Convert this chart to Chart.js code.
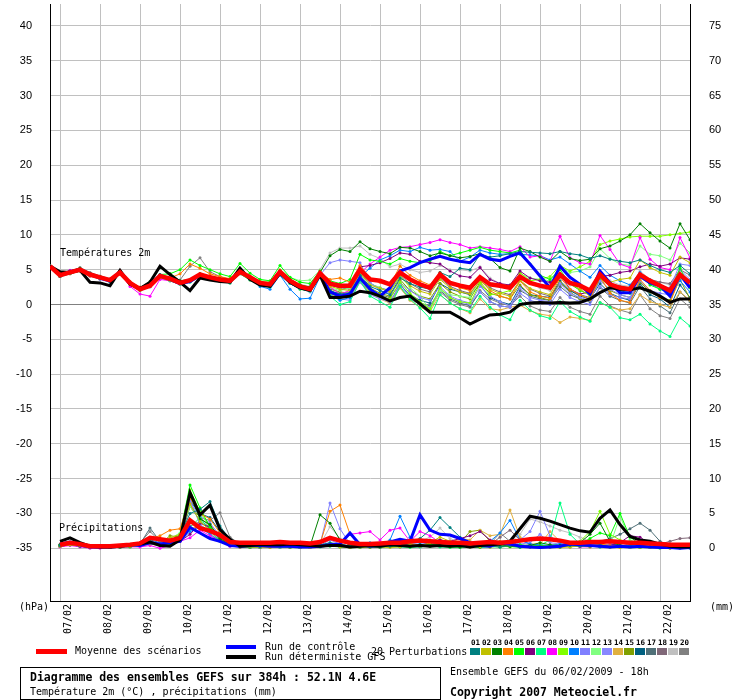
<!DOCTYPE html>
<html>
<head>
<meta charset="utf-8">
<script src="https://cdn.jsdelivr.net/npm/chart.js@4.4.0/dist/chart.umd.min.js"></script>
<style>
  body { margin: 0; background: #fff; }
  #wrap { position: relative; width: 740px; height: 700px; overflow: hidden; }
  .t { position: absolute; white-space: nowrap; font: 10px 'DejaVu Sans Mono', monospace; line-height: 12px; color: #000; }
  .b { font-weight: bold; font-size: 11.5px; line-height: 14px; }
  .sw { position: absolute; }
  .num { position: absolute; width: 11px; text-align: center; font: bold 7.5px 'DejaVu Sans Mono', monospace; line-height: 9px; }
</style>
</head>
<body>
<div id="wrap">
  <canvas id="gefsChart" width="740" height="700"></canvas>
  <div class="t" style="left:60px;top:247px">Températures 2m</div>
  <div class="t" style="left:59px;top:522px">Précipitations</div>
  <div class="t" style="left:19px;top:601px">(hPa)</div>
  <div class="t" style="left:710px;top:601px">(mm)</div>

  <div class="sw" style="left:36px;top:649px;width:31px;height:5px;background:#ff0000"></div>
  <div class="t" style="left:75px;top:645px">Moyenne des scénarios</div>
  <div class="sw" style="left:226px;top:645px;width:30px;height:4px;background:#0000ff"></div>
  <div class="t" style="left:265px;top:641px">Run de contrôle</div>
  <div class="sw" style="left:226px;top:655px;width:30px;height:4px;background:#000"></div>
  <div class="t" style="left:265px;top:651px">Run déterministe GFS</div>
  <div class="t" style="left:371px;top:646px">20 Perturbations</div>
  <div id="pertLegend"></div>

  <div style="position:absolute;left:20px;top:667px;width:419px;height:31px;border:1px solid #000"></div>
  <div class="t b" style="left:30px;top:670px">Diagramme des ensembles GEFS sur 384h : 52.1N 4.6E</div>
  <div class="t" style="left:30px;top:686px">Température 2m (°C) , précipitations (mm)</div>
  <div class="t" style="left:450px;top:666px">Ensemble GEFS du 06/02/2009 - 18h</div>
  <div class="t b" style="left:450px;top:685px">Copyright 2007 Meteociel.fr</div>
</div>
<script>
// x = run step (6h), 0 = 06/02 18h ... 64 = +384h
const steps = Array.from({ length: 65 }, (_, i) => i);
const dayTicks = [1, 5, 9, 13, 17, 21, 25, 29, 33, 37, 41, 45, 49, 53, 57, 61];
const dateLabels = ['07/02', '08/02', '09/02', '10/02', '11/02', '12/02', '13/02', '14/02',
  '15/02', '16/02', '17/02', '18/02', '19/02', '20/02', '21/02', '22/02'];
const tempTicks = [-35, -30, -25, -20, -15, -10, -5, 0, 5, 10, 15, 20, 25, 30, 35, 40];
const precipTicks = [0, 5, 10, 15, 20, 25, 30, 35, 40, 45, 50, 55, 60, 65, 70, 75];

const pertColors = ['#008080', '#c0c000', '#008000', '#ff8000', '#00ff00', '#800080', '#00ff80',
  '#ff00ff', '#80ff00', '#0080ff', '#8080ff', '#80ff80', '#8888ff', '#e0b040', '#80a000',
  '#006080', '#507078', '#806878', '#c0c0c0', '#808080'];

// temperature 2m (°C)
const meanTemp = [5.5, 4.2, 4.6, 5.0, 4.3, 3.9, 3.5, 4.6, 3.1, 2.2, 2.7, 4.1, 3.7, 3.1, 3.5, 4.3, 3.9, 3.6, 3.4, 4.7, 3.9, 3.1, 2.9, 4.7, 3.4, 2.6, 2.2, 4.5,
  3.0, 2.7, 2.7, 5.0, 3.6, 3.4, 2.9, 4.6, 3.6, 2.9, 2.4, 4.3, 3.1, 2.7, 2.4, 3.9, 2.9, 2.7, 2.4, 4.0, 3.1, 2.7, 2.4, 4.3, 3.1, 2.7, 2.0, 4.3, 2.9, 2.4, 2.2, 4.3, 3.4, 2.7, 2.0, 4.3, 3.1];
const ctrlTemp = [5.5, 4.3, 4.7, 5.0, 4.4, 3.8, 3.4, 4.7, 3.0, 2.1, 2.8, 4.2, 3.6, 3.0, 3.3, 4.2, 3.8, 3.5, 3.3, 4.8, 3.8, 3.0, 2.8, 4.6, 3.2, 2.4, 2.1, 4.4,
  1.8, 1.2, 1.5, 3.8, 2.2, 1.2, 2.4, 4.8, 5.3, 6.0, 6.5, 6.9, 6.5, 6.2, 6.0, 7.2, 6.5, 6.3, 6.9, 7.4, 5.8, 4.1, 2.4, 5.5, 3.9, 2.9, 1.5, 4.8, 3.1, 1.7, 1.7, 4.1, 3.1, 2.7, 1.2, 4.3, 2.4];
const detTemp = [5.5, 4.7, 4.6, 4.9, 3.2, 3.1, 2.7, 4.9, 2.9, 2.3, 3.2, 5.5, 4.3, 3.2, 2.0, 3.8, 3.5, 3.3, 3.2, 5.2, 3.6, 2.8, 2.6, 4.5, 3.2, 2.4, 2.0, 4.2,
  1.0, 1.0, 1.2, 1.9, 1.7, 1.2, 0.5, 1.0, 1.2, 0.1, -1.1, -1.1, -1.1, -1.9, -2.8, -2.1, -1.5, -1.4, -1.1, 0.0, 0.2, 0.3, 0.2, 0.3, 0.2, 0.3, 0.8, 1.7, 2.4, 2.2, 2.1, 2.4, 1.9, 1.2, 0.3, 0.8, 0.8];

const tempP01 = [5.5, 4.0, 4.5, 5.0, 4.2, 3.8, 3.3, 4.5, 3.0, 2.4, 2.8, 4.3, 3.6, 3.0, 3.4, 4.0, 3.7, 3.4, 3.3, 4.6, 3.7, 2.9, 2.7, 4.5, 3.2, 2.4, 2.0, 4.2,
  2.0, 1.5, 1.7, 4.2, 2.6, 2.0, 1.4, 3.8, 3.0, 2.5, 2.2, 4.6, 4.0, 5.2, 5.0, 7.2, 6.8, 7.0, 7.3, 7.6, 7.5, 7.4, 7.3, 7.6, 7.3, 7.1, 6.6, 7.0, 6.5, 6.2, 6.0, 6.4, 5.6, 5.0, 4.6, 5.6, 4.4];
const tempP02 = [5.5, 4.1, 4.4, 4.8, 4.1, 3.7, 3.4, 4.4, 2.9, 2.0, 2.6, 3.9, 3.5, 3.0, 3.3, 4.1, 3.8, 3.5, 3.3, 4.5, 3.8, 3.0, 2.8, 4.6, 3.3, 2.5, 2.1, 4.3,
  2.6, 2.2, 2.0, 4.5, 2.8, 2.3, 1.8, 4.0, 2.7, 1.9, 1.5, 3.6, 2.4, 1.8, 1.5, 3.4, 2.2, 1.6, 1.2, 3.5, 2.3, 1.8, 1.4, 4.1, 3.0, 2.2, 1.2, 4.6, 3.2, 3.6, 3.8, 6.4, 5.3, 4.6, 4.2, 6.8, 6.0];
const tempP03 = [5.5, 4.4, 4.8, 5.2, 4.5, 4.0, 3.6, 4.8, 3.2, 2.4, 3.3, 5.3, 4.4, 3.4, 3.6, 4.4, 4.0, 3.7, 3.5, 5.0, 4.0, 3.2, 3.0, 4.8, 3.6, 2.8, 2.5, 4.6,
  7.0, 7.9, 7.6, 9.0, 8.0, 7.6, 7.3, 8.2, 8.1, 7.6, 7.0, 7.4, 7.0, 6.7, 6.9, 7.3, 6.6, 5.3, 4.8, 8.1, 7.6, 6.8, 6.2, 7.6, 6.6, 6.3, 6.5, 8.0, 8.4, 9.1, 10.0, 11.6, 10.3, 9.1, 8.1, 11.6, 9.3];
const tempP04 = [5.5, 4.0, 4.5, 5.0, 4.4, 4.0, 3.6, 4.7, 3.3, 2.5, 2.9, 4.0, 3.8, 4.4, 5.8, 5.2, 4.4, 4.0, 3.7, 4.8, 4.0, 3.3, 3.1, 4.9, 3.5, 2.7, 2.4, 4.5,
  3.6, 3.8, 3.2, 5.6, 3.8, 3.2, 2.8, 5.5, 4.2, 3.4, 2.8, 4.6, 3.2, 2.4, 2.0, 3.6, 2.0, 1.2, 0.8, 3.4, 1.8, 1.2, 0.9, 3.9, 2.2, 1.4, 0.7, 4.0, 1.6, 0.6, 0.3, 3.6, 2.0, 1.0, 0.2, 3.9, 2.8];
const tempP05 = [5.5, 4.3, 4.7, 5.1, 4.4, 3.9, 3.5, 4.6, 3.0, 2.1, 2.7, 4.3, 4.4, 5.0, 6.4, 5.6, 5.0, 4.4, 4.0, 5.9, 4.5, 3.6, 3.4, 5.6, 3.9, 3.2, 3.0, 4.8,
  3.4, 3.0, 3.6, 7.2, 6.4, 6.2, 5.8, 6.6, 6.2, 6.0, 6.3, 7.6, 7.0, 7.4, 7.8, 8.2, 7.8, 7.6, 7.4, 7.8, 5.8, 4.2, 3.6, 5.0, 3.0, 2.0, 1.4, 3.8, 2.6, 2.0, 1.6, 4.2, 2.8, 2.2, 1.8, 5.2, 2.4];
const tempP06 = [5.5, 4.2, 4.6, 4.9, 4.2, 3.8, 3.4, 4.5, 3.1, 2.3, 2.8, 4.0, 3.6, 3.1, 3.4, 4.2, 3.8, 3.5, 3.3, 4.6, 3.8, 3.0, 2.8, 4.6, 3.3, 2.5, 2.1, 4.4,
  2.8, 2.4, 3.0, 5.4, 5.6, 6.0, 6.6, 7.4, 7.2, 6.2, 6.0, 5.8, 4.8, 4.1, 3.9, 5.3, 3.6, 3.0, 2.8, 4.8, 3.8, 3.4, 3.2, 4.4, 2.2, 1.5, 1.8, 4.0, 4.2, 4.6, 4.8, 5.4, 5.8, 5.5, 5.8, 6.7, 6.5];
const tempP07 = [5.5, 4.1, 4.5, 4.9, 4.2, 3.7, 3.3, 4.4, 2.9, 2.0, 2.6, 3.9, 3.4, 2.9, 3.2, 4.0, 3.6, 3.3, 3.1, 4.4, 3.5, 2.8, 2.5, 4.3, 3.0, 2.2, 1.9, 4.1,
  1.2, 0.0, 0.4, 3.4, 1.2, 0.4, -0.4, 2.6, 0.8, -0.5, -2.0, 1.4, 0.2, -0.6, -1.0, 1.2, -0.4, -1.5, -2.2, 0.6, -0.8, -1.6, -2.0, 0.4, -1.0, -1.8, -2.4, 0.3, -0.4, -1.9, -2.2, -1.4, -2.8, -3.8, -4.6, -1.9, -3.1];
const tempP08 = [5.5, 4.3, 4.9, 5.0, 4.1, 3.7, 3.4, 4.5, 2.6, 1.5, 1.2, 3.6, 3.4, 3.0, 3.4, 4.2, 3.8, 3.6, 3.4, 4.6, 3.8, 3.1, 2.9, 4.6, 3.4, 2.7, 2.3, 4.5,
  2.5, 1.5, 2.0, 4.5, 5.8, 6.8, 7.8, 8.2, 8.3, 8.6, 8.9, 9.3, 8.9, 8.6, 8.1, 8.3, 8.1, 7.9, 7.6, 8.3, 6.8, 7.0, 6.2, 9.8, 6.7, 6.0, 5.8, 9.9, 7.9, 5.8, 5.3, 9.6, 6.5, 5.3, 5.0, 9.6, 6.7];
const tempP09 = [5.5, 4.2, 4.6, 5.0, 4.3, 3.9, 3.5, 4.6, 3.1, 2.2, 2.7, 4.0, 3.6, 3.1, 3.6, 4.4, 3.9, 3.6, 3.4, 4.8, 3.9, 3.2, 3.0, 4.6, 3.4, 2.6, 2.3, 4.4,
  1.6, 1.0, 1.4, 3.6, 1.8, 1.2, 0.8, 3.2, 1.6, 0.4, -0.6, 2.4, 1.0, 0.4, 0.2, 3.0, 1.4, 1.6, 2.0, 4.6, 3.4, 3.6, 4.0, 5.6, 4.8, 5.4, 6.2, 8.6, 9.1, 9.4, 9.7, 9.8, 9.8, 9.8, 10.0, 10.2, 10.4];
const tempP10 = [5.5, 4.2, 4.5, 4.9, 4.2, 3.8, 3.4, 4.5, 3.0, 2.1, 2.6, 4.0, 3.5, 3.0, 3.3, 4.1, 3.7, 3.4, 3.2, 4.5, 3.6, 2.6, 2.2, 4.2, 2.2, 0.8, 0.9, 4.0,
  1.4, 0.6, 1.0, 4.0, 5.2, 6.4, 7.0, 7.8, 7.6, 8.2, 7.8, 7.9, 7.6, 6.2, 6.8, 7.8, 7.4, 7.2, 7.3, 7.2, 7.1, 7.0, 6.4, 6.8, 5.8, 4.8, 3.9, 5.6, 4.2, 3.4, 2.8, 4.6, 3.0, 2.2, 1.6, 3.4, 1.8];
const tempP11 = [5.5, 4.0, 4.4, 4.8, 4.1, 3.6, 3.2, 4.4, 3.0, 2.1, 2.5, 3.8, 3.4, 2.9, 3.3, 4.0, 3.6, 3.3, 3.1, 4.4, 3.6, 2.9, 2.7, 4.4, 3.2, 2.4, 2.0, 4.2,
  6.0, 6.4, 6.2, 6.0, 3.2, 2.0, 1.6, 3.2, 2.0, 1.0, 0.6, 2.6, 1.2, 0.6, 0.2, 1.8, 0.4, -0.2, -0.4, 1.6, 0.6, 0.2, 0.0, 2.2, 1.0, 0.4, 0.0, 2.6, 1.4, 1.0, 0.8, 3.4, 2.0, 1.6, 1.4, 5.0, 3.6];
const tempP12 = [5.5, 4.3, 4.7, 5.1, 4.4, 4.0, 3.6, 4.7, 3.2, 2.3, 2.8, 4.2, 3.8, 3.2, 3.6, 4.4, 4.0, 3.7, 3.5, 4.9, 4.0, 3.4, 3.3, 5.0, 3.9, 3.4, 3.5, 4.9,
  2.4, 2.0, 2.4, 4.4, 3.0, 2.4, 1.8, 4.2, 2.4, 1.2, -0.8, 2.0, 1.4, 1.2, 1.0, 3.6, 2.8, 2.6, 2.8, 4.4, 3.8, 3.6, 3.4, 5.4, 4.6, 4.8, 5.4, 8.0, 6.6, 5.8, 5.6, 8.4, 7.2, 7.0, 6.4, 8.8, 7.4];
const tempP13 = [5.5, 4.1, 4.5, 4.9, 4.3, 3.9, 3.4, 4.5, 3.0, 2.2, 2.6, 4.0, 3.6, 3.0, 3.4, 4.1, 3.7, 3.4, 3.3, 4.6, 3.7, 3.0, 2.8, 4.5, 3.1, 2.3, 1.8, 4.3,
  1.8, 0.8, 0.6, 3.2, 1.4, 0.8, 0.4, 2.8, 1.2, 0.2, -0.4, 2.2, 1.0, 0.4, 0.0, 2.6, 1.2, 0.4, -0.2, 2.4, 1.0, 0.6, 0.4, 3.0, 1.6, 1.0, 0.6, 3.4, 2.2, 1.4, 1.0, 3.8, 3.0, 2.6, 2.4, 5.8, 5.6];
const tempP14 = [5.5, 4.0, 4.4, 4.8, 4.2, 3.8, 3.3, 4.4, 2.9, 2.1, 2.6, 3.9, 3.4, 2.9, 3.3, 4.0, 3.6, 3.3, 3.1, 4.4, 3.5, 2.8, 2.6, 4.3, 3.0, 2.2, 1.9, 4.1,
  1.4, 1.0, 1.2, 3.2, 1.6, 0.8, 0.2, 2.4, 0.6, -0.4, -1.0, 1.4, 0.2, -0.6, -1.2, 0.8, -0.6, -0.8, -0.4, -0.1, -0.9, -1.4, -1.6, -2.6, -1.8, -2.0, -2.3, 0.3, -0.4, -0.8, -0.6, 1.4, 0.4, 0.0, -0.4, 1.8, 0.6];
const tempP15 = [5.5, 4.2, 4.6, 5.0, 4.3, 3.9, 3.5, 4.6, 3.1, 2.3, 2.8, 4.1, 3.7, 3.1, 3.5, 4.2, 3.8, 3.5, 3.4, 4.7, 3.9, 3.1, 2.9, 4.6, 3.4, 2.6, 2.2, 4.4,
  2.2, 1.8, 1.6, 4.0, 2.4, 1.6, 1.2, 3.6, 2.0, 1.2, 0.8, 3.0, 1.8, 1.2, 0.8, 3.2, 1.6, 1.2, 0.8, 2.8, 1.4, 1.0, 0.6, 3.2, 1.8, 0.8, 0.6, 3.6, 2.0, 1.4, 1.0, 3.2, 1.8, 1.0, 0.6, 3.6, 0.8];
const tempP16 = [5.5, 4.1, 4.5, 4.9, 4.2, 3.8, 3.4, 4.6, 3.1, 2.2, 2.7, 4.1, 3.6, 3.1, 3.4, 4.2, 3.8, 3.5, 3.3, 4.6, 3.8, 3.0, 2.8, 4.6, 3.3, 2.5, 2.1, 4.4,
  1.6, 1.2, 1.4, 3.8, 2.0, 1.0, 0.4, 2.8, 1.4, 0.6, 0.2, 3.0, 2.2, 1.8, 1.4, 2.8, 1.0, 0.4, 0.0, 2.6, 1.4, 1.2, 1.0, 3.4, 2.0, 1.2, 0.8, 3.0, 1.6, 1.0, 0.6, 3.0, 1.4, 0.8, -0.4, 2.8, 1.0];
const tempP17 = [5.5, 4.2, 4.6, 5.0, 4.3, 3.9, 3.5, 4.6, 3.1, 2.2, 2.7, 4.1, 3.7, 3.1, 3.5, 4.3, 3.9, 3.6, 3.4, 4.7, 3.9, 3.1, 2.9, 4.7, 3.4, 2.6, 2.2, 4.5,
  1.8, 1.6, 1.2, 3.6, 2.2, 1.4, 1.0, 3.0, 1.0, 0.2, -0.2, 2.0, 0.8, 0.2, -0.2, 1.8, 0.4, -0.2, -0.4, 2.0, 1.2, 0.8, 0.6, 2.6, 1.4, 0.8, 0.4, 2.4, 1.2, 0.6, 0.2, 2.6, 0.8, -0.2, -1.2, 1.8, 0.4];
const tempP18 = [5.5, 4.2, 4.6, 5.0, 4.3, 3.9, 3.5, 4.6, 3.1, 2.3, 2.7, 4.1, 3.7, 3.1, 3.5, 4.3, 3.9, 3.6, 3.4, 4.7, 3.9, 3.1, 2.9, 4.7, 3.4, 2.6, 2.2, 4.5,
  2.8, 2.4, 2.2, 4.6, 3.0, 2.4, 2.0, 4.2, 3.0, 2.2, 1.8, 3.8, 2.6, 2.0, 1.6, 3.4, 2.4, 1.8, 1.4, 3.4, 2.2, 1.6, 1.2, 3.0, 2.0, 1.4, 1.0, 3.8, 3.0, 2.6, 2.4, 4.4, 3.6, 3.2, 3.0, 5.0, 4.2];
const tempP19 = [5.5, 4.3, 4.7, 5.1, 4.4, 4.0, 3.6, 4.8, 3.2, 2.4, 2.9, 4.2, 3.8, 3.2, 3.6, 4.4, 4.0, 3.7, 3.5, 4.8, 4.0, 3.2, 3.0, 4.9, 3.6, 2.9, 2.6, 5.0,
  7.4, 8.1, 8.1, 8.4, 7.2, 6.6, 5.4, 5.8, 5.0, 4.6, 4.8, 5.6, 5.0, 5.0, 4.8, 5.4, 3.8, 3.0, 2.6, 4.4, 3.0, 2.4, 2.0, 4.0, 2.8, 2.2, 1.8, 4.6, 3.4, 2.8, 2.6, 4.8, 3.6, 3.2, 2.8, 4.8, 2.8];
const tempP20 = [5.5, 4.4, 4.8, 5.3, 4.6, 4.1, 3.7, 4.7, 3.2, 2.3, 2.8, 4.2, 3.8, 3.5, 5.5, 6.7, 4.7, 4.0, 3.6, 4.8, 3.9, 3.2, 3.0, 4.7, 3.4, 2.7, 2.3, 4.4,
  2.0, 1.4, 1.0, 3.4, 1.6, 1.0, 0.2, 2.4, 0.8, 0.0, -0.6, 1.8, 0.6, 0.0, -0.4, 2.0, 0.8, 0.2, -0.2, 1.2, -0.2, -0.8, -1.0, 1.0, -0.4, -1.0, -1.4, 1.2, -0.2, -0.8, -1.2, 1.4, -0.6, -1.6, -2.0, 0.8, -0.4];

// precipitation (mm / 6h), no value at step 0
const meanRain = [null, 0.5, 0.8, 0.6, 0.3, 0.3, 0.3, 0.4, 0.5, 0.7, 1.5, 1.3, 1.1, 1.5, 4.0, 2.9, 2.5, 1.9, 0.9, 0.8, 0.8, 0.8, 0.8, 0.9, 0.8,
  0.8, 0.7, 0.9, 1.5, 1.1, 0.8, 0.6, 0.6, 0.7, 0.8, 0.8, 1.0, 1.1, 1.0, 0.9, 0.8, 0.8, 0.7, 0.8, 0.9, 0.8, 0.9, 1.1, 1.3,
  1.4, 1.3, 1.1, 0.8, 0.8, 0.9, 0.9, 1.0, 0.9, 0.8, 0.8, 0.7, 0.6, 0.5, 0.5, 0.5];
const ctrlRain = [null, 0.6, 0.9, 0.5, 0.2, 0.2, 0.2, 0.3, 0.5, 0.4, 0.8, 0.6, 0.8, 1.0, 3.0, 2.2, 1.4, 1.0, 0.4, 0.3, 0.4, 0.4, 0.3, 0.3, 0.3,
  0.2, 0.2, 0.3, 0.5, 0.6, 2.2, 0.5, 0.3, 0.4, 0.9, 1.3, 1.0, 4.8, 2.6, 2.0, 1.9, 1.4, 0.8, 0.4, 0.3, 0.8, 0.6, 0.3, 0.2,
  0.1, 0.2, 0.3, 0.6, 0.5, 0.4, 0.3, 0.2, 0.3, 0.2, 0.3, 0.2, 0.1, 0.1, 0.0, 0.1];
const detRain = [null, 1.0, 1.5, 0.8, 0.3, 0.2, 0.2, 0.3, 0.5, 0.6, 0.9, 0.4, 0.3, 1.2, 8.0, 4.8, 6.2, 2.7, 1.3, 0.3, 0.4, 0.5, 0.5, 0.5, 0.6,
  0.5, 0.4, 0.3, 0.4, 0.4, 0.2, 0.3, 0.4, 0.3, 0.5, 0.4, 0.3, 0.4, 0.3, 0.4, 0.3, 0.4, 0.2, 0.4, 0.5, 0.6, 1.0, 2.8, 4.6,
  4.3, 3.9, 3.4, 2.9, 2.5, 2.3, 4.3, 5.5, 3.4, 1.7, 1.2, 1.0, 0.6, 0.3, 0.2, 0.2];

const rainP01 = [null, 0.4, 0.8, 0.5, 0.2, 0.1, 0.1, 0.2, 0.4, 0.6, 1.0, 0.6, 0.8, 1.8, 5.0, 5.6, 6.7, 3.2, 1.2, 0.4, 0.3, 0.2, 0.4, 0.3, 0.2,
  0.2, 0.3, 0.5, 0.8, 0.6, 0.3, 0.2, 0.3, 0.2, 0.3, 0.5, 0.9, 1.4, 2.6, 4.4, 3.0, 1.6, 0.8, 0.5, 0.3, 0.2, 0.4, 0.3, 0.2,
  0.3, 0.2, 0.2, 0.4, 0.3, 0.3, 0.5, 0.2, 0.3, 0.4, 0.2, 0.2, 0.1, 0.1, 0.2, 0.2];
const rainP02 = [null, 0.3, 0.5, 0.4, 0.1, 0.1, 0.2, 0.2, 0.3, 0.4, 0.6, 0.4, 1.5, 2.0, 6.4, 3.8, 2.6, 1.8, 0.6, 0.2, 0.2, 0.1, 0.1, 0.2, 0.2,
  0.1, 0.1, 0.3, 0.5, 0.2, 0.1, 0.1, 0.2, 0.2, 0.1, 0.2, 0.5, 0.3, 0.8, 1.6, 1.0, 0.6, 0.4, 0.2, 0.5, 1.0, 0.4, 0.3, 0.2,
  0.2, 0.1, 0.1, 0.2, 0.3, 0.2, 0.4, 0.1, 0.1, 0.2, 0.1, 0.1, 0.1, 0.0, 0.1, 0.1];
const rainP03 = [null, 0.5, 0.7, 0.4, 0.2, 0.2, 0.1, 0.2, 0.3, 0.5, 0.9, 0.5, 0.6, 1.4, 7.8, 4.2, 3.4, 1.4, 0.5, 0.3, 0.2, 0.3, 0.2, 0.4, 0.3,
  0.2, 0.3, 4.8, 3.6, 1.2, 0.4, 0.3, 0.2, 0.2, 0.3, 0.4, 0.3, 0.5, 0.6, 0.4, 0.3, 0.2, 0.3, 0.2, 0.4, 0.5, 0.3, 0.2, 0.4,
  0.8, 0.5, 0.4, 0.6, 0.8, 2.0, 3.6, 1.0, 0.4, 0.3, 0.2, 0.2, 0.1, 0.1, 0.1, 0.1];
const rainP04 = [null, 0.4, 0.6, 0.4, 0.2, 0.2, 0.2, 0.3, 0.5, 0.8, 1.4, 1.8, 2.6, 2.8, 7.2, 5.0, 4.2, 2.2, 0.6, 0.3, 0.3, 0.2, 0.3, 0.3, 0.2,
  0.2, 0.3, 0.6, 5.3, 6.2, 2.0, 0.6, 0.3, 0.2, 0.4, 0.5, 0.7, 0.4, 0.5, 0.6, 0.4, 0.3, 0.2, 0.3, 0.2, 0.3, 0.4, 0.3, 0.2,
  0.3, 0.2, 0.2, 0.3, 0.4, 0.3, 0.6, 0.4, 0.3, 0.2, 0.2, 0.1, 0.1, 0.1, 0.1, 0.2];
const rainP05 = [null, 0.4, 0.6, 0.4, 0.2, 0.1, 0.1, 0.2, 0.3, 0.5, 0.8, 0.6, 1.0, 2.0, 9.1, 5.8, 3.0, 1.6, 0.6, 0.3, 0.2, 0.2, 0.6, 0.5, 0.3,
  0.2, 0.2, 0.3, 0.4, 0.3, 0.2, 0.2, 0.2, 0.2, 0.3, 0.3, 0.2, 0.4, 0.3, 0.4, 0.2, 0.2, 0.3, 0.2, 0.3, 0.2, 0.3, 0.5, 0.3,
  0.4, 0.3, 0.2, 0.3, 0.6, 1.4, 2.2, 1.8, 5.0, 1.6, 0.6, 0.8, 0.3, 0.2, 0.1, 0.1];
const rainP06 = [null, 0.3, 0.5, 0.3, 0.1, 0.1, 0.1, 0.2, 0.3, 0.5, 0.8, 0.5, 0.7, 1.0, 2.0, 3.6, 3.0, 1.2, 0.4, 0.2, 0.2, 0.2, 0.2, 0.3, 0.2,
  0.2, 0.2, 0.3, 0.4, 0.3, 0.2, 0.3, 0.5, 0.6, 0.8, 0.5, 0.6, 0.4, 0.8, 1.2, 1.0, 1.4, 1.8, 2.4, 1.2, 0.5, 0.6, 0.4, 0.3,
  0.2, 0.3, 0.4, 0.6, 0.3, 0.4, 0.3, 0.4, 0.8, 1.8, 1.6, 0.6, 0.3, 0.2, 0.2, 0.1];
const rainP07 = [null, 0.3, 0.5, 0.3, 0.1, 0.1, 0.1, 0.2, 0.2, 0.4, 0.7, 0.5, 0.8, 1.2, 3.0, 4.4, 2.6, 1.0, 0.4, 0.2, 0.1, 0.2, 0.3, 0.2, 0.1,
  0.1, 0.2, 0.2, 0.3, 0.2, 0.1, 0.1, 0.2, 0.1, 0.2, 0.2, 0.1, 0.2, 0.3, 0.2, 0.1, 0.1, 0.2, 0.1, 0.2, 0.2, 0.3, 0.1, 0.2,
  0.4, 1.2, 6.5, 2.0, 0.6, 0.4, 0.2, 0.3, 0.2, 0.1, 0.1, 0.1, 0.0, 0.1, 0.0, 0.1];
const rainP08 = [null, 0.2, 0.4, 0.2, 0.0, 0.0, 0.1, 0.1, 0.2, 0.2, 0.4, 0.0, 0.4, 1.0, 1.5, 2.6, 1.8, 1.0, 0.3, 0.2, 0.6, 0.8, 0.4, 0.5, 0.3,
  0.2, 0.4, 0.3, 0.6, 0.5, 2.0, 2.2, 2.4, 1.2, 2.6, 2.9, 1.0, 2.4, 1.8, 0.8, 0.5, 0.4, 0.3, 0.5, 0.4, 0.3, 0.5, 0.4, 0.2,
  0.3, 0.2, 0.3, 0.4, 0.2, 0.2, 0.4, 0.3, 0.2, 0.3, 0.2, 0.1, 0.1, 0.2, 0.1, 0.1];
const rainP09 = [null, 0.4, 0.6, 0.4, 0.2, 0.2, 0.1, 0.2, 0.3, 0.5, 0.8, 0.6, 1.2, 1.6, 8.4, 5.2, 3.2, 1.4, 0.5, 0.3, 0.4, 0.5, 0.3, 0.3, 0.2,
  0.2, 0.3, 0.4, 0.6, 0.4, 0.3, 0.2, 0.4, 0.3, 0.5, 0.4, 0.3, 0.4, 0.5, 0.3, 0.2, 0.2, 0.4, 0.3, 0.2, 0.3, 0.2, 0.2, 0.3,
  0.4, 0.3, 0.4, 0.6, 1.0, 2.4, 5.3, 2.0, 1.2, 0.6, 0.4, 0.8, 0.5, 0.3, 0.2, 0.2];
const rainP10 = [null, 0.3, 0.5, 0.3, 0.1, 0.1, 0.1, 0.2, 0.3, 0.4, 0.7, 0.4, 0.8, 1.0, 2.4, 3.0, 2.0, 1.0, 0.3, 0.2, 0.1, 0.1, 0.2, 0.1, 0.2,
  0.1, 0.1, 0.3, 0.4, 0.3, 0.2, 0.6, 0.8, 0.4, 1.2, 4.6, 1.6, 0.8, 1.0, 1.2, 0.8, 0.6, 0.4, 0.5, 1.0, 2.2, 4.0, 1.2, 0.6,
  0.5, 0.4, 0.6, 0.5, 0.4, 0.3, 0.2, 0.4, 0.3, 0.2, 0.1, 0.1, 0.1, 0.0, 0.1, 0.0];
const rainP11 = [null, 0.4, 0.6, 0.5, 0.2, 0.1, 0.2, 0.2, 0.3, 0.6, 1.0, 0.8, 1.2, 1.6, 7.0, 3.4, 2.4, 1.2, 0.4, 0.2, 0.2, 0.1, 0.2, 0.2, 0.2,
  0.2, 0.2, 0.5, 6.5, 2.8, 0.6, 0.3, 0.2, 0.2, 0.3, 0.2, 0.3, 0.2, 0.4, 0.3, 0.2, 0.2, 0.3, 0.2, 0.3, 0.4, 0.6, 1.2, 2.4,
  5.3, 1.8, 0.6, 0.8, 0.6, 0.5, 0.4, 0.6, 0.8, 0.4, 0.3, 0.2, 0.2, 0.1, 0.1, 0.1];
const rainP12 = [null, 0.3, 0.5, 0.4, 0.2, 0.1, 0.1, 0.2, 0.2, 0.4, 0.7, 0.6, 1.4, 2.2, 6.0, 4.0, 2.8, 1.4, 0.6, 0.3, 0.3, 0.4, 0.6, 0.4, 0.3,
  0.2, 0.2, 0.4, 0.5, 0.3, 0.2, 0.3, 0.3, 0.4, 0.3, 0.4, 0.6, 0.5, 0.4, 0.3, 0.3, 0.2, 0.4, 0.3, 0.4, 0.3, 0.5, 0.4, 0.3,
  0.4, 0.3, 0.5, 0.4, 0.6, 0.8, 0.5, 0.4, 4.6, 1.2, 0.6, 0.4, 0.3, 0.2, 0.2, 0.1];
const rainP13 = [null, 0.4, 0.6, 0.4, 0.2, 0.1, 0.1, 0.2, 0.3, 0.5, 0.8, 0.6, 0.9, 1.4, 6.6, 4.6, 3.6, 1.8, 0.6, 0.2, 0.2, 0.2, 0.3, 0.2, 0.2,
  0.2, 0.2, 0.4, 1.2, 0.6, 0.3, 0.2, 0.3, 0.2, 0.3, 0.5, 0.6, 0.8, 0.5, 0.4, 0.3, 0.2, 0.3, 0.4, 0.5, 0.8, 1.0, 0.6, 0.8,
  2.0, 0.8, 0.6, 0.5, 1.0, 0.6, 0.4, 0.3, 0.2, 0.2, 0.2, 0.1, 0.1, 0.1, 0.1, 0.1];
const rainP14 = [null, 0.3, 0.5, 0.3, 0.1, 0.1, 0.1, 0.1, 0.2, 0.4, 0.6, 0.4, 0.7, 1.0, 2.8, 3.2, 2.2, 1.0, 0.4, 0.2, 0.1, 0.1, 0.2, 0.3, 0.2,
  0.1, 0.1, 0.3, 0.3, 0.2, 0.1, 0.2, 0.3, 0.3, 0.4, 0.6, 0.5, 0.3, 0.4, 0.6, 0.8, 1.4, 1.2, 2.6, 1.8, 2.0, 5.5, 1.6, 0.6,
  0.6, 2.4, 1.0, 0.5, 0.4, 0.3, 0.2, 0.3, 0.2, 0.1, 0.1, 0.1, 0.0, 0.1, 0.0, 0.0];
const rainP15 = [null, 0.4, 0.6, 0.4, 0.2, 0.1, 0.2, 0.2, 0.3, 0.5, 0.9, 0.6, 1.8, 1.6, 6.2, 4.4, 3.2, 1.6, 0.5, 0.3, 0.2, 0.2, 0.3, 0.2, 0.2,
  0.1, 0.2, 0.3, 0.5, 0.3, 0.2, 0.3, 0.2, 0.3, 0.4, 0.3, 0.4, 0.5, 0.3, 0.4, 0.2, 0.8, 2.4, 2.6, 1.0, 0.6, 0.4, 0.3, 0.4,
  0.3, 0.4, 0.3, 0.2, 0.4, 0.5, 0.3, 0.2, 0.3, 0.2, 0.2, 0.1, 0.1, 0.1, 0.2, 0.1];
const rainP16 = [null, 0.5, 0.7, 0.5, 0.2, 0.2, 0.2, 0.3, 0.4, 0.7, 1.2, 0.8, 1.0, 1.6, 6.8, 5.0, 4.4, 2.4, 0.8, 0.4, 0.3, 0.2, 0.3, 0.3, 0.2,
  0.2, 0.3, 0.4, 0.7, 0.5, 0.3, 0.2, 0.3, 0.3, 0.4, 0.3, 0.5, 0.4, 0.5, 0.6, 0.4, 0.3, 0.2, 0.3, 0.4, 0.3, 0.4, 0.3, 0.5,
  0.4, 0.3, 0.3, 0.5, 0.4, 0.6, 0.4, 0.5, 0.6, 0.8, 0.5, 0.3, 0.2, 0.2, 0.1, 0.2];
const rainP17 = [null, 0.4, 0.7, 0.5, 0.2, 0.1, 0.2, 0.2, 0.3, 0.6, 2.9, 1.0, 0.8, 1.2, 6.0, 4.0, 3.0, 1.6, 0.6, 0.3, 0.2, 0.2, 0.3, 0.2, 0.2,
  0.2, 0.2, 0.3, 0.5, 0.4, 0.2, 0.3, 0.2, 0.3, 0.4, 0.3, 0.5, 0.4, 0.3, 0.4, 0.3, 0.2, 0.3, 0.2, 0.3, 0.4, 0.3, 0.5, 0.4,
  0.3, 0.4, 0.3, 0.5, 0.6, 0.8, 1.0, 1.4, 2.0, 2.8, 3.6, 2.6, 1.0, 0.4, 0.2, 0.2];
const rainP18 = [null, 0.3, 0.6, 0.4, 0.2, 0.1, 0.1, 0.2, 0.3, 0.5, 0.8, 0.6, 0.9, 1.3, 3.2, 3.8, 2.8, 1.4, 0.5, 0.3, 0.2, 0.2, 0.3, 0.2, 0.2,
  0.2, 0.2, 0.3, 0.5, 0.4, 0.2, 0.2, 0.2, 0.2, 0.3, 0.4, 0.6, 1.0, 0.8, 0.6, 0.4, 0.3, 0.4, 0.3, 0.5, 1.6, 2.6, 1.2, 0.6,
  0.4, 0.3, 0.3, 0.4, 0.3, 0.4, 0.3, 0.2, 0.3, 0.2, 0.2, 0.3, 0.6, 1.0, 1.4, 1.5];
const rainP19 = [null, 0.4, 0.6, 0.5, 0.2, 0.2, 0.1, 0.2, 0.3, 0.5, 0.9, 0.6, 0.8, 1.4, 6.8, 4.8, 3.6, 1.8, 0.6, 0.3, 0.2, 0.2, 0.2, 0.3, 0.2,
  0.2, 0.2, 0.5, 3.1, 1.4, 0.4, 0.2, 0.2, 0.2, 0.3, 0.4, 0.6, 1.0, 1.6, 2.9, 1.4, 0.8, 0.6, 0.4, 0.3, 0.5, 0.8, 2.0, 4.2,
  3.8, 3.2, 2.6, 2.2, 1.6, 1.0, 0.6, 0.4, 0.3, 0.2, 0.2, 0.1, 0.1, 0.1, 0.1, 0.1];
const rainP20 = [null, 0.5, 0.8, 0.6, 0.2, 0.2, 0.2, 0.3, 0.5, 0.8, 2.4, 1.0, 1.2, 1.6, 7.4, 4.4, 4.0, 5.1, 1.6, 0.6, 0.3, 0.3, 0.3, 0.2, 0.2,
  0.2, 0.3, 0.4, 0.6, 0.4, 0.3, 0.2, 0.2, 0.2, 0.3, 0.3, 0.4, 0.5, 0.6, 0.8, 0.5, 0.4, 0.3, 0.4, 0.6, 2.2, 1.0, 0.4, 0.3,
  0.3, 0.2, 0.3, 0.4, 0.3, 0.5, 0.3, 0.2, 0.2, 0.1, 0.2, 0.1, 0.1, 0.1, 0.1, 0.1];

const pertTemps = [tempP01, tempP02, tempP03, tempP04, tempP05, tempP06, tempP07, tempP08, tempP09, tempP10,
  tempP11, tempP12, tempP13, tempP14, tempP15, tempP16, tempP17, tempP18, tempP19, tempP20];
const pertRains = [rainP01, rainP02, rainP03, rainP04, rainP05, rainP06, rainP07, rainP08, rainP09, rainP10,
  rainP11, rainP12, rainP13, rainP14, rainP15, rainP16, rainP17, rainP18, rainP19, rainP20];

// legend swatches for the perturbations
const legendBox = document.getElementById('pertLegend');
pertColors.forEach((c, i) => {
  const sw = document.createElement('div');
  sw.className = 'sw';
  sw.style.cssText = `left:${470 + i * 11}px;top:648px;width:10px;height:7px;background:${c}`;
  legendBox.appendChild(sw);
  const n = document.createElement('div');
  n.className = 'num';
  n.style.cssText = `left:${470 + i * 11}px;top:638px`;
  n.textContent = String(i + 1).padStart(2, '0');
  legendBox.appendChild(n);
});

function thick(label, data, color, width, axis) {
  return { label, data, yAxisID: axis, borderColor: color, backgroundColor: color,
    borderWidth: width, pointRadius: 0, tension: 0, fill: false };
}
function thin(label, data, color, axis) {
  return { label, data, yAxisID: axis, borderColor: color, backgroundColor: color,
    borderWidth: 1, pointRadius: 1.5, pointBorderWidth: 0, pointBackgroundColor: color, tension: 0, fill: false };
}

// first datasets are painted last (on top)
const datasets = [
  thick('Moyenne T', meanTemp, '#ff0000', 4.5, 'y'),
  thick('Moyenne P', meanRain, '#ff0000', 4.5, 'y2'),
  thick('Déterministe T', detTemp, '#000000', 3, 'y'),
  thick('Déterministe P', detRain, '#000000', 3, 'y2'),
  thick('Contrôle T', ctrlTemp, '#0000ff', 3, 'y'),
  thick('Contrôle P', ctrlRain, '#0000ff', 3, 'y2')
];
pertTemps.forEach((d, i) => datasets.push(thin('P' + (i + 1) + ' T', d, pertColors[i], 'y')));
pertRains.forEach((d, i) => datasets.push(thin('P' + (i + 1) + ' P', d, pertColors[i], 'y2')));

const tickFont = { family: "'Liberation Sans', Arial, sans-serif", size: 11 };

// fixed frame: plot runs from x 50 to 690 and y 0 to 601
function noPad(s) {
  s.paddingTop = 0; s.paddingBottom = 0; s.paddingLeft = 0; s.paddingRight = 0;
}

new Chart(document.getElementById('gefsChart'), {
  type: 'line',
  data: { labels: steps, datasets },
  options: {
    responsive: false,
    animation: false,
    devicePixelRatio: 1,
    layout: { padding: 0 },
    plugins: { legend: { display: false }, tooltip: { enabled: false } },
    scales: {
      x: {
        type: 'linear', min: 0, max: 64,
        afterBuildTicks: s => { s.ticks = dayTicks.map(v => ({ value: v })); },
        afterFit: s => { s.height = 99; noPad(s); },
        border: { color: '#000', width: 1 },
        grid: { color: '#c0c0c0', drawTicks: false },
        ticks: {
          autoSkip: false, minRotation: 90, maxRotation: 90, labelOffset: 8, padding: 3,
          color: '#000', font: { family: "'DejaVu Sans Mono', monospace", size: 10 },
          callback: (v, i) => dateLabels[i]
        }
      },
      y: {
        position: 'left', min: -42.57, max: 43.14,
        afterBuildTicks: s => { s.ticks = tempTicks.map(v => ({ value: v })); },
        afterFit: s => { s.width = 50; noPad(s); },
        border: { color: '#000', width: 1 },
        grid: { drawTicks: false, color: c => (c.tick && c.tick.value === 0 ? '#808080' : '#c0c0c0') },
        ticks: { padding: 18, color: '#000', font: tickFont }
      },
      y2: {
        position: 'right', min: -7.57, max: 78.14,
        afterBuildTicks: s => { s.ticks = precipTicks.map(v => ({ value: v })); },
        afterFit: s => { s.width = 50; noPad(s); },
        border: { color: '#000', width: 1 },
        grid: { display: false, drawTicks: false },
        ticks: { padding: 19, color: '#000', font: tickFont }
      }
    }
  }
});
</script>
</body>
</html>
